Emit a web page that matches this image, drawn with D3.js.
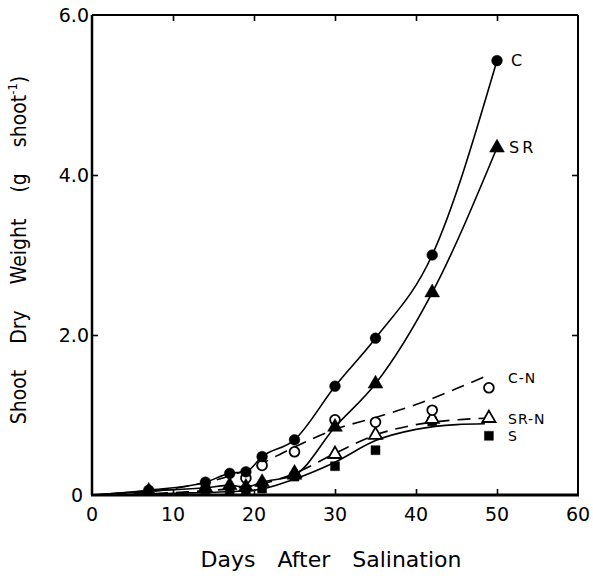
<!doctype html>
<html>
<head>
    <style>
        body { margin: 0; background: #fff; }
        text { font-family: "DejaVu Sans", sans-serif; fill: #000; }
        .frame { stroke: #000; fill: none; }
    </style>
    <script src="https://d3js.org/d3.v7.min.js"></script>
</head>
<body>
<svg width="593" height="576"></svg>
<script>
// measured points (day, shoot dry weight g/shoot)
var cDays = [0, 7, 14, 17, 19, 21, 25, 30, 35, 42, 50];
var cVals = [0, 0.06, 0.16, 0.27, 0.29, 0.48, 0.69, 1.36, 1.96, 3.0, 5.43];

var srDays = [0, 7, 14, 17, 19, 21, 25, 30, 35, 42, 50];
var srVals = [0, 0.05, 0.09, 0.12, 0.1, 0.16, 0.25, 0.85, 1.39, 2.53, 4.34];

var cnDays = [19, 21, 25, 30, 35, 42, 49];
var cnVals = [0.21, 0.37, 0.54, 0.94, 0.91, 1.06, 1.34];

var srnDays = [25, 30, 35, 42, 49];
var srnVals = [0.27, 0.51, 0.75, 0.95, 0.96];

var sDays = [14, 17, 19, 21, 25, 30, 35, 42, 49];
var sVals = [0.07, 0.06, 0.06, 0.08, 0.23, 0.36, 0.56, 0.92, 0.74];

// fitted curves
var cnFitDays = [0, 10, 15, 20, 25, 30, 35, 40, 45, 48.5];
var cnFitVals = [0, 0.08, 0.18, 0.35, 0.6, 0.82, 0.97, 1.13, 1.33, 1.48];

var srnFitDays = [0, 10, 20, 25, 30, 35, 40, 45, 48.5];
var srnFitVals = [0, 0.03, 0.12, 0.27, 0.52, 0.75, 0.88, 0.94, 0.96];

var sFitDays = [0, 10, 20, 25, 30, 35, 40, 45, 48.5];
var sFitVals = [0, 0.02, 0.06, 0.2, 0.41, 0.68, 0.82, 0.88, 0.89];

var xTicks = [0, 10, 20, 30, 40, 50, 60];
var yTicks = [0, 2, 4, 6];
var yTickLabels = ["0", "2.0", "4.0", "6.0"];

var seriesNames = ["C", "SR", "C-N", "SR-N", "S"];
var labelDays = [50, 50, 50, 50, 50];
var labelVals = [5.43, 4.34, 1.46, 0.95, 0.74];

var svg = d3.select("svg");
var mLeft = 92, mRight = 578, mTop = 15, mBottom = 495;

var x = d3.scaleLinear().domain([0, 60]).range([mLeft, mRight]);
var y = d3.scaleLinear().domain([0, 6]).range([mBottom, mTop]);

var g = svg.append("g");

// frame
g.append("line").attr("class", "frame").attr("x1", mLeft).attr("x2", mLeft)
  .attr("y1", mTop).attr("y2", mBottom).attr("stroke-width", 2.5);
g.append("line").attr("class", "frame").attr("x1", mLeft - 1).attr("x2", mRight + 1)
  .attr("y1", mBottom).attr("y2", mBottom).attr("stroke-width", 3);
g.append("line").attr("class", "frame").attr("x1", mLeft).attr("x2", mRight)
  .attr("y1", mTop).attr("y2", mTop).attr("stroke-width", 2);
g.append("line").attr("class", "frame").attr("x1", mRight).attr("x2", mRight)
  .attr("y1", mTop).attr("y2", mBottom).attr("stroke-width", 2);

// inward ticks
var xAxisB = d3.axisBottom(x).tickValues(xTicks.slice(1, -1)).tickSize(-6).tickFormat("");
var xAxisT = d3.axisTop(x).tickValues(xTicks.slice(1, -1)).tickSize(-6).tickFormat("");
var yAxisL = d3.axisLeft(y).tickValues(yTicks.slice(1, -1)).tickSize(-6).tickFormat("");
var yAxisR = d3.axisRight(y).tickValues(yTicks.slice(1, -1)).tickSize(-6).tickFormat("");
[[xAxisB, "translate(0," + mBottom + ")"], [xAxisT, "translate(0," + mTop + ")"],
 [yAxisL, "translate(" + mLeft + ",0)"], [yAxisR, "translate(" + mRight + ",0)"]].forEach(function(a) {
    var ax = g.append("g").attr("transform", a[1]).call(a[0]);
    ax.select(".domain").remove();
    ax.selectAll("line").attr("stroke", "#000").attr("stroke-width", 1.6);
});

// tick labels
g.selectAll(".xl").data(xTicks).enter().append("text")
  .attr("x", function(d) { return x(d); })
  .attr("y", mBottom + 26)
  .attr("text-anchor", "middle")
  .style("font-size", "19px")
  .text(function(d) { return d; });

g.selectAll(".yl").data(yTicks).enter().append("text")
  .attr("x", function(d) { return d === 0 ? mLeft - 9 : mLeft - 3; })
  .attr("y", function(d) { return y(d) + 7; })
  .attr("text-anchor", "end")
  .style("font-size", "19px")
  .text(function(d, i) { return yTickLabels[i]; });

// axis titles
g.append("text")
  .attr("x", 331).attr("y", 567)
  .attr("text-anchor", "middle")
  .style("font-size", "22px")
  .style("word-spacing", "15px")
  .text("Days After Salination");

var yt = g.append("text")
  .attr("transform", "translate(26,250) rotate(-90)")
  .attr("text-anchor", "middle")
  .style("font-family", "'DejaVu Sans Condensed', 'DejaVu Sans', sans-serif")
  .style("font-size", "21px")
  .style("word-spacing", "20px");
yt.append("tspan").text("Shoot Dry Weight (g shoot");
yt.append("tspan").attr("dy", -9).style("font-size", "13px").text("-1");
yt.append("tspan").attr("dy", 9).text(")");

function pts(days, vals) {
    return days.map(function(d, i) { return [d, vals[i]]; });
}

var line = d3.line()
  .x(function(d) { return x(d[0]); })
  .y(function(d) { return y(d[1]); })
  .curve(d3.curveMonotoneX);

// lines
g.append("path").datum(pts(cDays, cVals)).attr("d", line)
  .attr("fill", "none").attr("stroke", "#000").attr("stroke-width", 1.6);
g.append("path").datum(pts(srDays, srVals)).attr("d", line)
  .attr("fill", "none").attr("stroke", "#000").attr("stroke-width", 1.6);
g.append("path").datum(pts(sFitDays, sFitVals)).attr("d", line)
  .attr("fill", "none").attr("stroke", "#000").attr("stroke-width", 1.6);
g.append("path").datum(pts(cnFitDays, cnFitVals)).attr("d", line)
  .attr("fill", "none").attr("stroke", "#000").attr("stroke-width", 1.6)
  .attr("stroke-dasharray", "13,8");
g.append("path").datum(pts(srnFitDays, srnFitVals)).attr("d", line)
  .attr("fill", "none").attr("stroke", "#000").attr("stroke-width", 1.6)
  .attr("stroke-dasharray", "13,8");

// markers
function markers(days, vals, type, size, filled) {
    var sym = d3.symbol().type(type).size(size);
    g.selectAll(null).data(pts(days, vals).filter(function(d) { return d[0] > 0; }))
      .enter().append("path")
      .attr("d", sym)
      .attr("transform", function(d) { return "translate(" + x(d[0]) + "," + y(d[1]) + ")"; })
      .attr("fill", filled ? "#000" : "#fff")
      .attr("stroke", "#000")
      .attr("stroke-width", filled ? 0.5 : 1.8);
}
markers(sDays, sVals, d3.symbolSquare, 80, true);
markers(srnDays, srnVals, d3.symbolTriangle, 75, false);
markers(cnDays, cnVals, d3.symbolCircle, 75, false);
markers(srDays, srVals, d3.symbolTriangle, 95, true);
markers(cDays, cVals, d3.symbolCircle, 90, true);

// series labels
var labelOffsets = [14, 12, 11, 11, 11];
g.selectAll(".sl").data(seriesNames).enter().append("text")
  .attr("x", function(d, i) { return x(labelDays[i]) + labelOffsets[i]; })
  .attr("y", function(d, i) { return y(labelVals[i]) + 5; })
  .style("font-size", function(d, i) { return i < 2 ? "16px" : "14px"; })
  .style("letter-spacing", function(d, i) { return i === 1 ? "3px" : "1px"; })
  .text(function(d) { return d; });
</script>
</body>
</html>
